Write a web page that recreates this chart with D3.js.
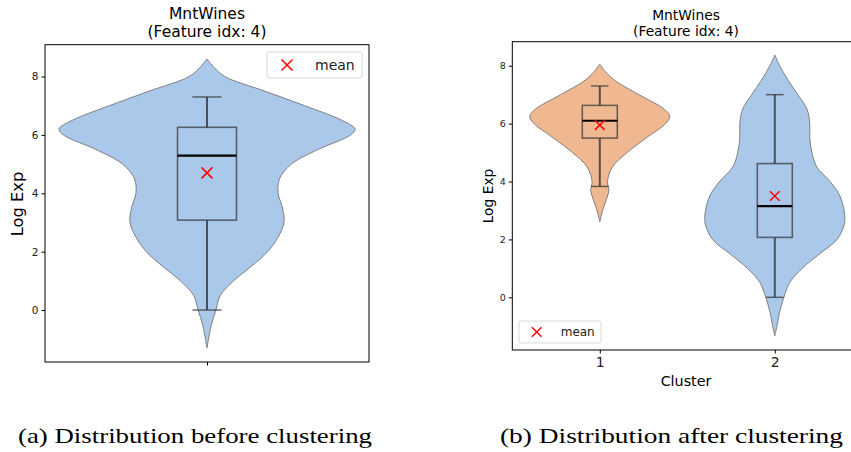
<!DOCTYPE html>
<html>
<head>
<meta charset="utf-8">
<script src="https://cdn.jsdelivr.net/npm/d3@7"></script>
<style>
  body { margin: 0; background: #fff; }
  svg { display: block; }
</style>
</head>
<body>
<svg id="chart" width="851" height="452"></svg>
<script>
// ---- data ----
// (a) all customers: value grid + relative density (violin half-width)
const allVals = [-1.3, -1.0, -0.5, 0, 0.5, 1, 1.5, 2, 2.5, 3, 3.5, 4, 4.5, 5, 5.5, 6, 6.2, 6.5, 7, 7.5, 8, 8.3, 8.6];
const allDens = [0, .01, .03, .06, .09, .18, .30, .41, .48, .52, .51, .48, .49, .57, .75, .97, 1.0, .91, .66, .39, .12, .05, 0];
const allBox = {q1: 3.08, median: 5.29, q3: 6.26, lo: 0, hi: 7.3, mean: 4.7};

// (b) cluster 1
const c1Vals = [2.6, 3.0, 3.5, 3.7, 4.0, 4.5, 5.0, 5.5, 6.0, 6.25, 6.5, 7.0, 7.5, 7.8, 8.05];
const c1Dens = [0, .04, .11, .13, .11, .18, .39, .66, .94, 1, .92, .56, .21, .08, 0];
const c1Box = {q1: 5.5, median: 6.1, q3: 6.63, lo: 3.83, hi: 7.3, mean: 5.95};

// (b) cluster 2
const c2Vals = [-1.33, -1.0, -0.5, 0, 0.5, 1, 1.5, 2, 2.5, 2.75, 3, 3.5, 4, 4.5, 5, 5.5, 6, 6.5, 7, 7.5, 8, 8.37];
const c2Dens = [0, .03, .07, .13, .21, .39, .64, .89, .99, 1, .99, .93, .79, .60, .53, .50, .50, .46, .33, .19, .07, 0];
const c2Box = {q1: 2.07, median: 3.15, q3: 4.62, lo: 0, hi: 7.0, mean: 3.5};

const clusters = ["1", "2"];
const yTicks = [0, 2, 4, 6, 8];

const blue = "#aac8ea", orange = "#f0b890";
const svg = d3.select("#chart");

function drawViolin(g, x, y, pos, vals, dens, halfW, fill) {
  const pts = vals.map((v, i) => [v, dens[i]]);
  const area = d3.area()
    .y(d => y(d[0]))
    .x0(d => x(pos - d[1] * halfW))
    .x1(d => x(pos + d[1] * halfW))
    .curve(d3.curveCatmullRom);
  g.append("path").attr("d", area(pts))
    .attr("fill", fill).attr("stroke", "#7f7f7f").attr("stroke-width", 1);
}

function drawBox(g, x, y, pos, b, bw, cw, ms) {
  const dark = "#333";
  // whiskers
  g.append("line").attr("x1", x(pos)).attr("x2", x(pos)).attr("y1", y(b.q3)).attr("y2", y(b.hi))
    .attr("stroke", dark).attr("stroke-opacity", .8).attr("stroke-width", 2);
  g.append("line").attr("x1", x(pos)).attr("x2", x(pos)).attr("y1", y(b.q1)).attr("y2", y(b.lo))
    .attr("stroke", dark).attr("stroke-opacity", .8).attr("stroke-width", 2);
  [b.lo, b.hi].forEach(v => {
    g.append("line").attr("x1", x(pos - cw)).attr("x2", x(pos + cw)).attr("y1", y(v)).attr("y2", y(v))
      .attr("stroke", dark).attr("stroke-opacity", .7).attr("stroke-width", 1.5);
  });
  g.append("rect").attr("x", x(pos - bw)).attr("width", x(pos + bw) - x(pos - bw))
    .attr("y", y(b.q3)).attr("height", y(b.q1) - y(b.q3))
    .attr("fill", "none").attr("stroke", dark).attr("stroke-opacity", .7).attr("stroke-width", 1.6);
  g.append("line").attr("x1", x(pos - bw)).attr("x2", x(pos + bw)).attr("y1", y(b.median)).attr("y2", y(b.median))
    .attr("stroke", "#000").attr("stroke-width", 2.2);
  drawX(g, x(pos), y(b.mean), ms);
}

function drawX(g, cx, cy, s) {
  g.append("path").attr("d", `M${cx - s},${cy - s}L${cx + s},${cy + s}M${cx - s},${cy + s}L${cx + s},${cy - s}`)
    .attr("stroke", "red").attr("stroke-width", 1.5).attr("fill", "none");
}

function legend(g, x0, y0, w, h, ms, fs, dx) {
  g.append("rect").attr("x", x0).attr("y", y0).attr("width", w).attr("height", h).attr("rx", 2)
    .attr("fill", "#fff").attr("fill-opacity", .8).attr("stroke", "#d9d9d9");
  drawX(g, x0 + dx, y0 + h / 2, ms);
  g.append("text").attr("x", x0 + dx + 28 * fs / 14).attr("y", y0 + h / 2).attr("dy", "0.35em")
    .attr("font-size", fs).attr("fill", "#222").text("mean");
}

const sans = "DejaVu Sans, sans-serif";
svg.attr("font-family", sans);

// ---------- (a) ----------
{
  const x = d3.scaleLinear().domain([-0.5, 0.5]).range([45, 369]);
  const y = d3.scaleLinear().domain([-1.78, 9.09]).range([362, 44.7]);
  const g = svg.append("g");
  drawViolin(g, x, y, 0, allVals, allDens, 0.457, blue);
  drawBox(g, x, y, 0, allBox, 0.091, 0.045, 5.5);

  const ya = g.append("g").attr("transform", "translate(45,0)")
    .call(d3.axisLeft(y).tickValues(yTicks).tickSize(3.5).tickPadding(3));
  ya.select(".domain").remove();
  ya.selectAll("text").attr("font-size", 10.5).attr("font-family", sans).attr("fill", "#222");
  const xa = g.append("g").attr("transform", "translate(0,362)")
    .call(d3.axisBottom(x).tickValues([0]).tickSize(3.5).tickFormat(""));
  xa.select(".domain").remove();

  g.append("rect").attr("x", 45).attr("y", 44.7).attr("width", 324).attr("height", 317.3)
    .attr("fill", "none").attr("stroke", "#000").attr("stroke-width", 1);

  legend(g, 267, 52, 95, 26, 5.5, 14, 20);

  g.append("text").attr("x", 207).attr("y", 18.5).attr("text-anchor", "middle").attr("font-size", 15.5).text("MntWines");
  g.append("text").attr("x", 207).attr("y", 37).attr("text-anchor", "middle").attr("font-size", 15.5).text("(Feature idx: 4)");
  g.append("text").attr("transform", "translate(23,204) rotate(-90)").attr("text-anchor", "middle")
    .attr("font-size", 16.3).text("Log Exp");
}

// ---------- (b) ----------
{
  const x = d3.scaleLinear().domain([0.5, 2.5]).range([512.3, 862.3]);
  const y = d3.scaleLinear().domain([-1.82, 8.83]).range([350, 41.7]);
  const g = svg.append("g");
  drawViolin(g, x, y, 1, c1Vals, c1Dens, 0.4, orange);
  drawViolin(g, x, y, 2, c2Vals, c2Dens, 0.4, blue);
  drawBox(g, x, y, 1, c1Box, 0.1, 0.05, 4.8);
  drawBox(g, x, y, 2, c2Box, 0.1, 0.05, 4.8);

  const ya = g.append("g").attr("transform", "translate(512.3,0)")
    .call(d3.axisLeft(y).tickValues(yTicks).tickSize(3.5).tickPadding(3));
  ya.select(".domain").remove();
  ya.selectAll("text").attr("font-size", 9.5).attr("font-family", sans).attr("fill", "#222");
  const xa = g.append("g").attr("transform", "translate(0,350)")
    .call(d3.axisBottom(x).tickValues([1, 2]).tickFormat((d, i) => clusters[i]).tickSize(3.5).tickPadding(4));
  xa.select(".domain").remove();
  xa.selectAll("text").attr("font-size", 14).attr("font-family", sans).attr("fill", "#222");

  g.append("rect").attr("x", 512.3).attr("y", 41.7).attr("width", 350).attr("height", 308.3)
    .attr("fill", "none").attr("stroke", "#000").attr("stroke-width", 1);

  legend(g, 519, 321, 82, 22, 4.8, 12, 17.7);

  g.append("text").attr("x", 686).attr("y", 19.5).attr("text-anchor", "middle").attr("font-size", 13.8).text("MntWines");
  g.append("text").attr("x", 686).attr("y", 36).attr("text-anchor", "middle").attr("font-size", 13.8).text("(Feature idx: 4)");
  g.append("text").attr("transform", "translate(493,196) rotate(-90)").attr("text-anchor", "middle")
    .attr("font-size", 13.8).text("Log Exp");
  g.append("text").attr("x", 686).attr("y", 386).attr("text-anchor", "middle").attr("font-size", 14.3).text("Cluster");
}

// ---------- captions ----------
const serif = "Liberation Serif, DejaVu Serif, serif";
svg.append("text").attr("x", 18).attr("y", 443).attr("font-family", serif).attr("font-size", 22)
  .attr("textLength", 354).attr("lengthAdjust", "spacingAndGlyphs").text("(a) Distribution before clustering");
svg.append("text").attr("x", 500).attr("y", 443).attr("font-family", serif).attr("font-size", 22)
  .attr("textLength", 343).attr("lengthAdjust", "spacingAndGlyphs").text("(b) Distribution after clustering");
</script>
</body>
</html>
